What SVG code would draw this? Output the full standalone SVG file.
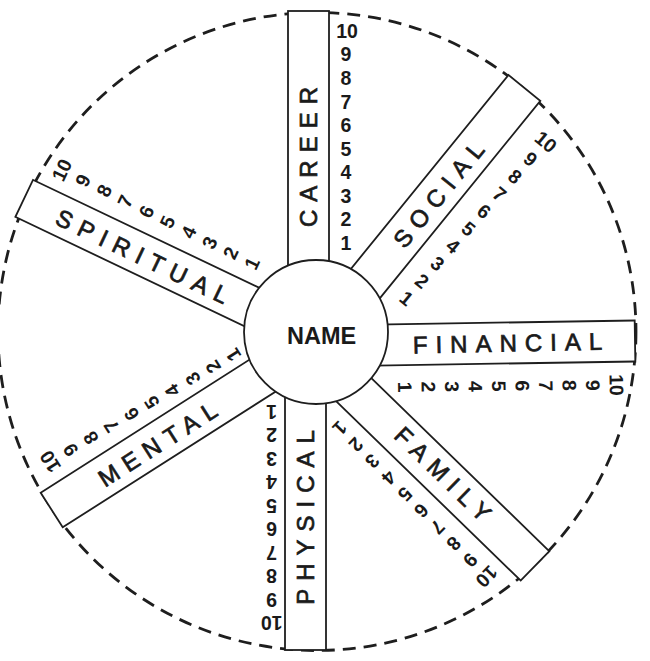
<svg xmlns="http://www.w3.org/2000/svg" width="650" height="661" viewBox="0 0 650 661">
<style>
.bar{fill:#fff;stroke:#1e1e1e;stroke-width:1.8}
.lbl{font-family:"Liberation Sans",Arial,sans-serif;font-size:24px;letter-spacing:8px;fill:#1a1a1a;text-anchor:middle;stroke:#1a1a1a;stroke-width:0.7}
.num{font-family:"Liberation Sans",Arial,sans-serif;font-size:19.5px;font-weight:bold;fill:#1a1a1a;text-anchor:middle}
.name{font-family:"Liberation Sans",Arial,sans-serif;font-size:23.5px;font-weight:bold;fill:#1a1a1a;text-anchor:middle}
</style>
<rect width="650" height="661" fill="#fff"/>
<g id="outer-circle">
<circle cx="317" cy="331.5" r="319" fill="none" stroke="#1e1e1e" stroke-width="2.8" stroke-dasharray="13 8"/>
</g>
<g id="career">
<rect class="bar" transform="translate(308.5 11) rotate(-90)" x="-290" y="-20.5" width="290" height="41"/>
<text class="lbl" transform="translate(308.5 157) rotate(-90)" x="4" y="8.6">CAREER</text>
<g class="num">
<text x="346" y="250">1</text><text x="346" y="226.4">2</text><text x="346" y="202.8">3</text><text x="346" y="179.2">4</text><text x="346" y="155.6">5</text><text x="346" y="132">6</text><text x="346" y="108.5">7</text><text x="346" y="84.9">8</text><text x="346" y="61.3">9</text><text x="347" y="37.7">10</text>
</g>
</g>
<g id="social">
<rect class="bar" transform="translate(524.4 87.9) rotate(-50.9)" x="-290" y="-20.5" width="290" height="41"/>
<text class="lbl" transform="translate(438.5 194.6) rotate(-50.9)" x="4" y="8.6">SOCIAL</text>
<g class="num">
<text transform="translate(406.7 298.3) rotate(39.1)" y="7">1</text>
<text transform="translate(422.2 280.9) rotate(39.1)" y="7">2</text>
<text transform="translate(437.7 263.5) rotate(39.1)" y="7">3</text>
<text transform="translate(453.1 246.1) rotate(39.1)" y="7">4</text>
<text transform="translate(468.6 228.7) rotate(39.1)" y="7">5</text>
<text transform="translate(484.1 211.3) rotate(39.1)" y="7">6</text>
<text transform="translate(499.6 193.9) rotate(39.1)" y="7">7</text>
<text transform="translate(515.1 176.5) rotate(39.1)" y="7">8</text>
<text transform="translate(530.5 159.1) rotate(39.1)" y="7">9</text>
<text transform="translate(546 141.7) rotate(39.1)" y="7">10</text>
</g>
</g>
<g id="financial">
<rect class="bar" transform="translate(635 341) rotate(-0.9)" x="-290" y="-20.5" width="290" height="41"/>
<text class="lbl" transform="translate(507.5 343) rotate(-1.2)" x="4" y="8.6">FINANCIAL</text>
<g class="num">
<text transform="translate(405 387) rotate(89.1)" y="7">1</text>
<text transform="translate(428.5 386.8) rotate(89.1)" y="7">2</text>
<text transform="translate(452 386.6) rotate(89.1)" y="7">3</text>
<text transform="translate(475.6 386.3) rotate(89.1)" y="7">4</text>
<text transform="translate(499.1 386.1) rotate(89.1)" y="7">5</text>
<text transform="translate(522.6 385.9) rotate(89.1)" y="7">6</text>
<text transform="translate(546.1 385.7) rotate(89.1)" y="7">7</text>
<text transform="translate(569.6 385.4) rotate(89.1)" y="7">8</text>
<text transform="translate(593.2 385.2) rotate(89.1)" y="7">9</text>
<text transform="translate(616.7 385) rotate(89.1)" y="7">10</text>
</g>
</g>
<g id="family">
<rect class="bar" transform="translate(535 565.9) rotate(44.2)" x="-290" y="-20.5" width="290" height="41"/>
<text class="lbl" transform="translate(443 474) rotate(44.2)" x="4" y="8.6">FAMILY</text>
<g class="num">
<text transform="translate(340 428.3) rotate(134.2)" y="7">1</text>
<text transform="translate(356.3 444.8) rotate(134.2)" y="7">2</text>
<text transform="translate(372.6 461.3) rotate(134.2)" y="7">3</text>
<text transform="translate(388.9 477.8) rotate(134.2)" y="7">4</text>
<text transform="translate(405.2 494.3) rotate(134.2)" y="7">5</text>
<text transform="translate(421.5 510.8) rotate(134.2)" y="7">6</text>
<text transform="translate(437.8 527.2) rotate(134.2)" y="7">7</text>
<text transform="translate(454.1 543.7) rotate(134.2)" y="7">8</text>
<text transform="translate(470.4 560.2) rotate(134.2)" y="7">9</text>
<text transform="translate(486.7 576.7) rotate(134.2)" y="7">10</text>
</g>
</g>
<g id="physical">
<rect class="bar" transform="translate(305.5 650) rotate(90)" x="-290" y="-20.5" width="290" height="41"/>
<text class="lbl" transform="translate(305.5 517.5) rotate(-90)" x="4" y="8.6">PHYSICAL</text>
<g class="num">
<text transform="translate(271.7 411.7) rotate(180)" y="7">1</text>
<text transform="translate(271.7 435.2) rotate(180)" y="7">2</text>
<text transform="translate(271.7 458.7) rotate(180)" y="7">3</text>
<text transform="translate(271.7 482.1) rotate(180)" y="7">4</text>
<text transform="translate(271.7 505.6) rotate(180)" y="7">5</text>
<text transform="translate(271.7 529.1) rotate(180)" y="7">6</text>
<text transform="translate(271.7 552.6) rotate(180)" y="7">7</text>
<text transform="translate(271.7 576.1) rotate(180)" y="7">8</text>
<text transform="translate(271.7 599.5) rotate(180)" y="7">9</text>
<text transform="translate(271.7 623) rotate(180)" y="7">10</text>
</g>
</g>
<g id="mental">
<rect class="bar" transform="translate(51.7 510) rotate(147.5)" x="-290" y="-20.5" width="290" height="41"/>
<text class="lbl" transform="translate(157.5 444) rotate(-32.5)" x="4" y="8.6">MENTAL</text>
<g class="num">
<text transform="translate(233.3 355) rotate(237.5)" y="7">1</text>
<text transform="translate(212.9 366.9) rotate(237.5)" y="7">2</text>
<text transform="translate(192.6 378.7) rotate(237.5)" y="7">3</text>
<text transform="translate(172.2 390.6) rotate(237.5)" y="7">4</text>
<text transform="translate(151.8 402.4) rotate(237.5)" y="7">5</text>
<text transform="translate(131.5 414.3) rotate(237.5)" y="7">6</text>
<text transform="translate(111.1 426.2) rotate(237.5)" y="7">7</text>
<text transform="translate(90.7 438) rotate(237.5)" y="7">8</text>
<text transform="translate(70.4 449.9) rotate(237.5)" y="7">9</text>
<text transform="translate(50 461.7) rotate(237.5)" y="7">10</text>
</g>
</g>
<g id="spiritual">
<rect class="bar" transform="translate(24.2 198.4) rotate(205.5)" x="-290" y="-20.5" width="290" height="41"/>
<text class="lbl" transform="translate(142.3 256.3) rotate(25.5)" x="4" y="8.6">SPIRITUAL</text>
<g class="num">
<text transform="translate(251.7 263.3) rotate(295.5)" y="7">1</text>
<text transform="translate(230.6 252.9) rotate(295.5)" y="7">2</text>
<text transform="translate(209.5 242.6) rotate(295.5)" y="7">3</text>
<text transform="translate(188.4 232.2) rotate(295.5)" y="7">4</text>
<text transform="translate(167.3 221.8) rotate(295.5)" y="7">5</text>
<text transform="translate(146.2 211.5) rotate(295.5)" y="7">6</text>
<text transform="translate(125 201.1) rotate(295.5)" y="7">7</text>
<text transform="translate(103.9 190.7) rotate(295.5)" y="7">8</text>
<text transform="translate(82.8 180.4) rotate(295.5)" y="7">9</text>
<text transform="translate(61.7 170) rotate(295.5)" y="7">10</text>
</g>
</g>
<g id="name">
<circle cx="316" cy="332" r="72" fill="#fff" stroke="#1e1e1e" stroke-width="1.8"/>
<text class="name" x="321.7" y="343.5">NAME</text>
</g>
</svg>
